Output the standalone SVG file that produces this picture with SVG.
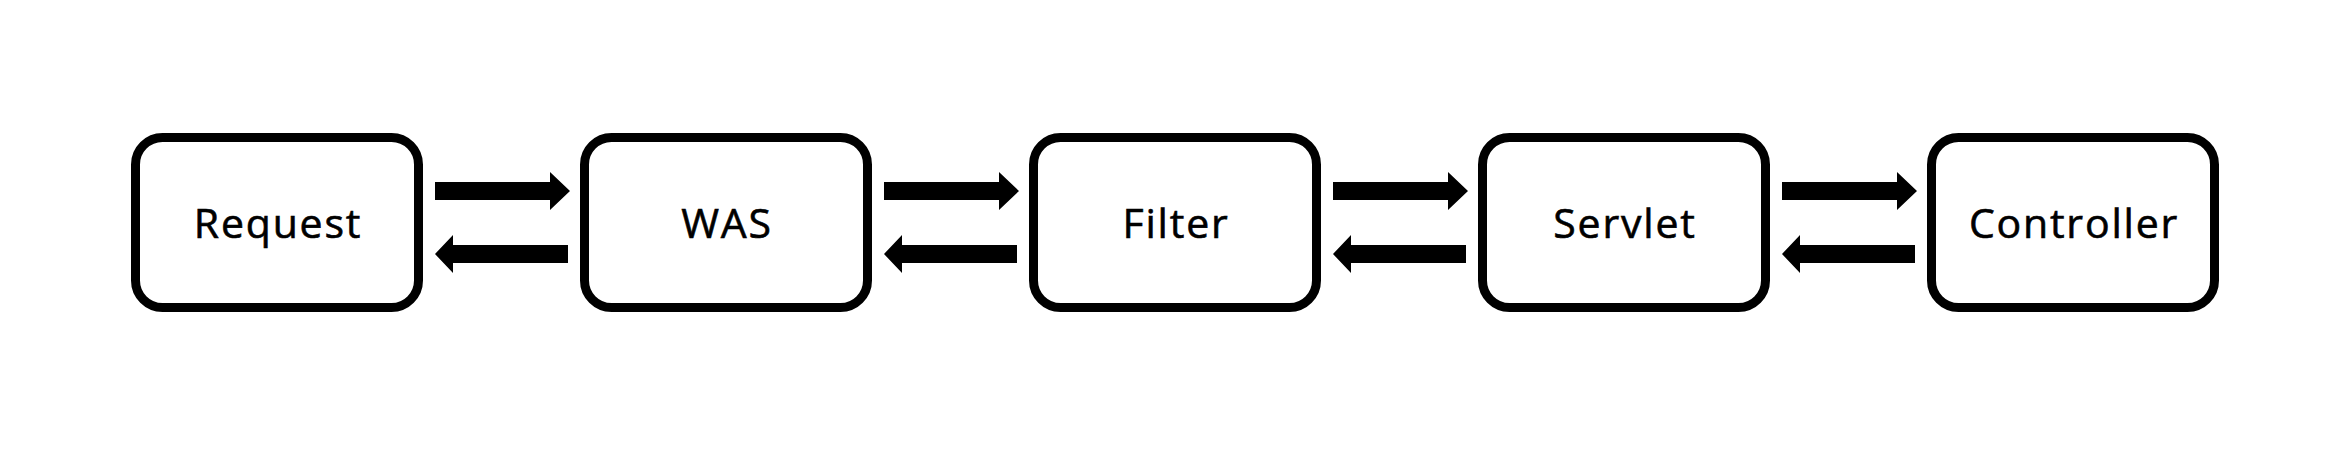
<svg xmlns="http://www.w3.org/2000/svg" width="2352" height="454" viewBox="0 0 2352 454">
<style>
.box{fill:#fff;stroke:#000;stroke-width:9}
.lbl{font-family:"Open Sans","Noto Sans",sans-serif;font-size:41px;letter-spacing:1.8px;fill:#000;stroke:#000;stroke-width:0.6;text-anchor:middle}
.arr{fill:#000}
</style>
<rect width="2352" height="454" fill="#fff"/>
<g id="connectors">
<path class="arr" d="M435,182 H550 V172 L570,191 L550,210 V200 H435 Z"/>
<path class="arr" d="M568,245 H453 V235 L435,254 L453,273 V263 H568 Z"/>
<path class="arr" d="M884,182 H999 V172 L1019,191 L999,210 V200 H884 Z"/>
<path class="arr" d="M1017,245 H902 V235 L884,254 L902,273 V263 H1017 Z"/>
<path class="arr" d="M1333,182 H1448 V172 L1468,191 L1448,210 V200 H1333 Z"/>
<path class="arr" d="M1466,245 H1351 V235 L1333,254 L1351,273 V263 H1466 Z"/>
<path class="arr" d="M1782,182 H1897 V172 L1917,191 L1897,210 V200 H1782 Z"/>
<path class="arr" d="M1915,245 H1800 V235 L1782,254 L1800,273 V263 H1915 Z"/>
</g>
<g id="request"><rect class="box" x="135.5" y="137.5" width="283" height="170" rx="27"/><text class="lbl" x="278" y="238">Request</text></g>
<g id="was"><rect class="box" x="584.5" y="137.5" width="283" height="170" rx="27"/><text class="lbl" x="727" y="238">WAS</text></g>
<g id="filter"><rect class="box" x="1033.5" y="137.5" width="283" height="170" rx="27"/><text class="lbl" x="1176" y="238">Filter</text></g>
<g id="servlet"><rect class="box" x="1482.5" y="137.5" width="283" height="170" rx="27"/><text class="lbl" x="1625" y="238">Servlet</text></g>
<g id="controller"><rect class="box" x="1931.5" y="137.5" width="283" height="170" rx="27"/><text class="lbl" x="2074" y="238">Controller</text></g>
</svg>
